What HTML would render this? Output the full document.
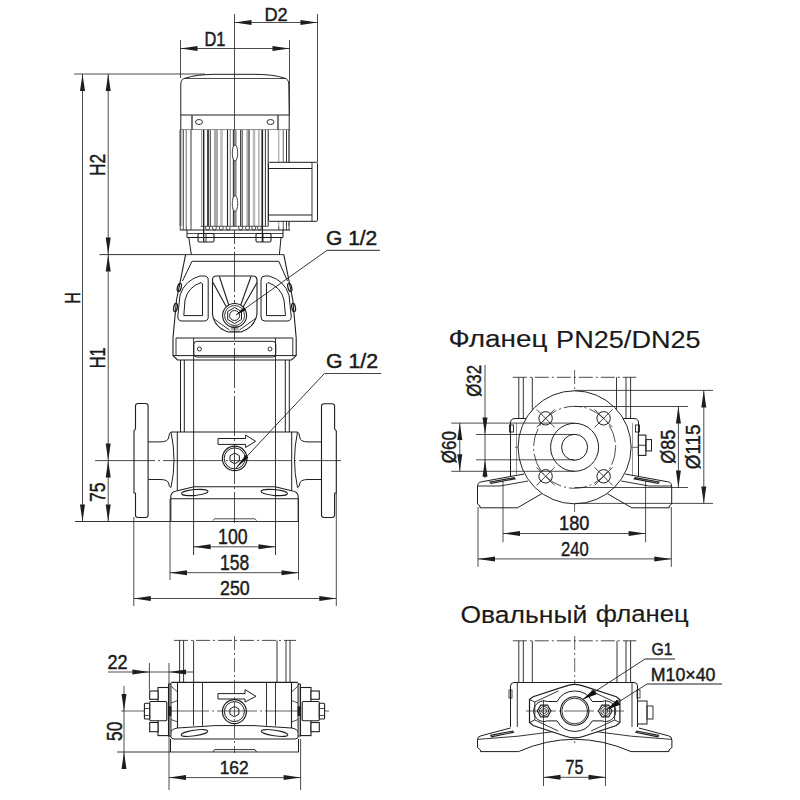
<!DOCTYPE html>
<html><head><meta charset="utf-8"><style>
html,body{margin:0;padding:0;background:#fff;width:800px;height:800px;overflow:hidden}
svg{display:block}
text{font-family:"Liberation Sans",sans-serif}
</style></head><body>
<svg width="800" height="800" viewBox="0 0 800 800">
<rect width="800" height="800" fill="#fff"/>
<line x1="234.5" y1="14" x2="234.5" y2="108" stroke="#1e1e1e" stroke-width="0.8"/>
<line x1="234.5" y1="108" x2="234.5" y2="523" stroke="#1e1e1e" stroke-width="0.8" stroke-dasharray="40 3 2 3"/>
<line x1="317.5" y1="14" x2="317.5" y2="162" stroke="#1e1e1e" stroke-width="0.8"/>
<line x1="234.5" y1="22.5" x2="317.5" y2="22.5" stroke="#1e1e1e" stroke-width="0.8"/>
<polygon points="234.50,22.50 251.50,20.00 251.50,25.00" fill="#1e1e1e"/>
<polygon points="317.50,22.50 300.50,20.00 300.50,25.00" fill="#1e1e1e"/>
<text x="0" y="0" font-size="19.16" text-anchor="middle" fill="#1a1a1a" stroke="#1a1a1a" stroke-width="0.45" transform="translate(276.05 20.80) rotate(0) scale(0.9485 1)">D2</text>
<line x1="180.5" y1="40" x2="180.5" y2="78" stroke="#1e1e1e" stroke-width="0.8"/>
<line x1="289.5" y1="40" x2="289.5" y2="115" stroke="#1e1e1e" stroke-width="0.8"/>
<line x1="180.5" y1="48.5" x2="289.5" y2="48.5" stroke="#1e1e1e" stroke-width="0.8"/>
<polygon points="180.50,48.50 197.50,46.00 197.50,51.00" fill="#1e1e1e"/>
<polygon points="289.50,48.50 272.50,46.00 272.50,51.00" fill="#1e1e1e"/>
<text x="0" y="0" font-size="19.50" text-anchor="middle" fill="#1a1a1a" stroke="#1a1a1a" stroke-width="0.45" transform="translate(214.90 46.00) rotate(0) scale(0.8421 1)">D1</text>
<line x1="74" y1="74" x2="205" y2="74" stroke="#1e1e1e" stroke-width="0.8"/>
<line x1="82.5" y1="74" x2="82.5" y2="521.5" stroke="#1e1e1e" stroke-width="0.8"/>
<polygon points="82.50,74.00 80.00,91.00 85.00,91.00" fill="#1e1e1e"/>
<polygon points="82.50,521.50 80.00,504.50 85.00,504.50" fill="#1e1e1e"/>
<text x="0" y="0" font-size="21.79" text-anchor="middle" fill="#1a1a1a" stroke="#1a1a1a" stroke-width="0.45" transform="translate(79.82 298.00) rotate(-90) scale(0.7410 1)">H</text>
<line x1="108.2" y1="74" x2="108.2" y2="521.5" stroke="#1e1e1e" stroke-width="0.8"/>
<polygon points="108.20,74.00 105.70,91.00 110.70,91.00" fill="#1e1e1e"/>
<polygon points="108.20,254.60 105.70,237.60 110.70,237.60" fill="#1e1e1e"/>
<polygon points="108.20,254.60 105.70,271.60 110.70,271.60" fill="#1e1e1e"/>
<polygon points="108.20,460.60 105.70,443.60 110.70,443.60" fill="#1e1e1e"/>
<polygon points="108.20,460.60 105.70,477.60 110.70,477.60" fill="#1e1e1e"/>
<polygon points="108.20,521.50 105.70,504.50 110.70,504.50" fill="#1e1e1e"/>
<text x="0" y="0" font-size="21.18" text-anchor="middle" fill="#1a1a1a" stroke="#1a1a1a" stroke-width="0.45" transform="translate(105.37 164.95) rotate(-90) scale(0.8140 1)">H2</text>
<text x="0" y="0" font-size="22.86" text-anchor="middle" fill="#1a1a1a" stroke="#1a1a1a" stroke-width="0.45" transform="translate(105.44 357.80) rotate(-90) scale(0.7149 1)">H1</text>
<text x="0" y="0" font-size="22.15" text-anchor="middle" fill="#1a1a1a" stroke="#1a1a1a" stroke-width="0.45" transform="translate(105.38 492.14) rotate(-90) scale(0.7934 1)">75</text>
<line x1="99.5" y1="254.6" x2="284" y2="254.6" stroke="#1e1e1e" stroke-width="0.9"/>
<line x1="95" y1="460.6" x2="341" y2="460.6" stroke="#1e1e1e" stroke-width="0.8" stroke-dasharray="60 3 2 3"/>
<line x1="75" y1="521.5" x2="299" y2="521.5" stroke="#1e1e1e" stroke-width="0.9"/>
<path d="M180.8,115 L180.8,84 Q181,78.5 186,78 Q196,74.5 215,74.3 L255,74.3 Q274,74.5 284,78 Q288.5,78.5 288.8,84 L289.2,115" stroke="#1e1e1e" stroke-width="1" fill="none"/>
<line x1="184" y1="78.5" x2="286" y2="78.5" stroke="#1e1e1e" stroke-width="0.8"/>
<line x1="180.8" y1="115" x2="289.2" y2="115" stroke="#1e1e1e" stroke-width="1"/>
<line x1="180.5" y1="130" x2="289.5" y2="130" stroke="#1e1e1e" stroke-width="1"/>
<line x1="180.8" y1="115" x2="180.8" y2="130" stroke="#1e1e1e" stroke-width="1"/>
<line x1="289.2" y1="115" x2="289.2" y2="130" stroke="#1e1e1e" stroke-width="1"/>
<line x1="192" y1="115" x2="192" y2="130" stroke="#555" stroke-width="1.6"/>
<line x1="278" y1="115" x2="278" y2="130" stroke="#555" stroke-width="1.6"/>
<ellipse cx="199" cy="122" rx="3.5" ry="2.5" stroke="#1e1e1e" stroke-width="0.9" fill="none"/>
<ellipse cx="270.5" cy="122" rx="3.5" ry="2.5" stroke="#1e1e1e" stroke-width="0.9" fill="none"/>
<rect x="180" y="130" width="110" height="100" fill="#fff"/>
<line x1="180.5" y1="130" x2="180.5" y2="226.3" stroke="#aaa" stroke-width="2.3"/>
<line x1="180.25" y1="130" x2="180.25" y2="226.3" stroke="#444" stroke-width="1.1"/>
<line x1="183.25" y1="130" x2="183.25" y2="226.3" stroke="#333" stroke-width="1"/>
<line x1="186.25" y1="130" x2="186.25" y2="226.3" stroke="#888" stroke-width="1.2"/>
<line x1="191" y1="130" x2="191" y2="226.3" stroke="#999" stroke-width="2"/>
<line x1="201.6" y1="130" x2="201.6" y2="226.3" stroke="#999" stroke-width="1"/>
<line x1="203.5" y1="130" x2="203.5" y2="226.3" stroke="#222" stroke-width="1.1"/>
<line x1="208" y1="130" x2="208" y2="226.3" stroke="#333" stroke-width="1.8"/>
<line x1="210.25" y1="130" x2="210.25" y2="226.3" stroke="#333" stroke-width="1"/>
<line x1="215" y1="130" x2="215" y2="226.3" stroke="#aaa" stroke-width="2"/>
<line x1="217" y1="130" x2="217" y2="226.3" stroke="#555" stroke-width="1"/>
<line x1="221.5" y1="130" x2="221.5" y2="226.3" stroke="#c4c4c4" stroke-width="3"/>
<line x1="227.5" y1="130" x2="227.5" y2="226.3" stroke="#222" stroke-width="1.1"/>
<line x1="230.3" y1="130" x2="230.3" y2="226.3" stroke="#999" stroke-width="1.3"/>
<line x1="234.9" y1="130" x2="234.9" y2="226.3" stroke="#8a8a8a" stroke-width="3.4"/>
<line x1="233.4" y1="130" x2="233.4" y2="226.3" stroke="#333" stroke-width="1.1"/>
<line x1="240.6" y1="130" x2="240.6" y2="226.3" stroke="#333" stroke-width="1"/>
<line x1="242.2" y1="130" x2="242.2" y2="226.3" stroke="#333" stroke-width="1"/>
<line x1="247.9" y1="130" x2="247.9" y2="226.3" stroke="#b0b0b0" stroke-width="3.2"/>
<line x1="249.1" y1="130" x2="249.1" y2="226.3" stroke="#444" stroke-width="1"/>
<line x1="254" y1="130" x2="254" y2="226.3" stroke="#b8b8b8" stroke-width="2.4"/>
<line x1="258.9" y1="130" x2="258.9" y2="226.3" stroke="#888" stroke-width="1"/>
<line x1="262.3" y1="130" x2="262.3" y2="226.3" stroke="#222" stroke-width="1.5"/>
<line x1="265.4" y1="130" x2="265.4" y2="226.3" stroke="#333" stroke-width="1"/>
<line x1="268.2" y1="130" x2="268.2" y2="226.3" stroke="#222" stroke-width="1"/>
<line x1="278.8" y1="130" x2="278.8" y2="226.3" stroke="#999" stroke-width="1"/>
<line x1="283.25" y1="130" x2="283.25" y2="226.3" stroke="#666" stroke-width="1"/>
<line x1="286.5" y1="130" x2="286.5" y2="226.3" stroke="#333" stroke-width="1"/>
<line x1="289" y1="130" x2="289" y2="226.3" stroke="#222" stroke-width="1.2"/>
<line x1="180.25" y1="226.3" x2="180.25" y2="230" stroke="#444" stroke-width="1"/>
<line x1="183.25" y1="226.3" x2="183.25" y2="230" stroke="#444" stroke-width="1"/>
<line x1="186.25" y1="226.3" x2="186.25" y2="230" stroke="#444" stroke-width="1"/>
<line x1="191" y1="226.3" x2="191" y2="230" stroke="#444" stroke-width="1"/>
<line x1="278.8" y1="226.3" x2="278.8" y2="230" stroke="#444" stroke-width="1"/>
<line x1="283.25" y1="226.3" x2="283.25" y2="230" stroke="#444" stroke-width="1"/>
<line x1="286.5" y1="226.3" x2="286.5" y2="230" stroke="#444" stroke-width="1"/>
<line x1="289" y1="226.3" x2="289" y2="230" stroke="#444" stroke-width="1"/>
<line x1="200.6" y1="226.3" x2="268.2" y2="226.3" stroke="#444" stroke-width="0.9"/>
<path d="M205.7,226.3 L205.7,228 Q205.7,230 207.6,230 Q209.5,230 209.5,228 L209.5,226.3" stroke="#444" stroke-width="0.9" fill="none"/>
<path d="M212.5,226.3 L212.5,228 Q212.5,230 214.4,230 Q216.3,230 216.3,228 L216.3,226.3" stroke="#444" stroke-width="0.9" fill="none"/>
<path d="M219.35,226.3 L219.35,228 Q219.35,230 221.25,230 Q223.15,230 223.15,228 L223.15,226.3" stroke="#444" stroke-width="0.9" fill="none"/>
<path d="M226.2,226.3 L226.2,228 Q226.2,230 228.1,230 Q230.0,230 230.0,228 L230.0,226.3" stroke="#444" stroke-width="0.9" fill="none"/>
<path d="M238.7,226.3 L238.7,228 Q238.7,230 240.6,230 Q242.5,230 242.5,228 L242.5,226.3" stroke="#444" stroke-width="0.9" fill="none"/>
<path d="M245.6,226.3 L245.6,228 Q245.6,230 247.5,230 Q249.4,230 249.4,228 L249.4,226.3" stroke="#444" stroke-width="0.9" fill="none"/>
<path d="M251.85,226.3 L251.85,228 Q251.85,230 253.75,230 Q255.65,230 255.65,228 L255.65,226.3" stroke="#444" stroke-width="0.9" fill="none"/>
<path d="M257.40000000000003,226.3 L257.40000000000003,228 Q257.40000000000003,230 259.3,230 Q261.20000000000005,230 261.20000000000005,228 L261.20000000000005,226.3" stroke="#444" stroke-width="0.9" fill="none"/>
<line x1="203.7" y1="130" x2="203.7" y2="242" stroke="#222" stroke-width="1.3"/>
<line x1="262.4" y1="130" x2="262.4" y2="242" stroke="#222" stroke-width="1.3"/>
<ellipse cx="235" cy="153" rx="2.7" ry="8" fill="#fff" stroke="#333" stroke-width="0.9"/>
<ellipse cx="235" cy="203.5" rx="2.7" ry="8" fill="#fff" stroke="#333" stroke-width="0.9"/>
<rect x="268.5" y="162.3" width="49" height="59" fill="#fff"/>
<rect x="268.5" y="162.3" width="49" height="59" rx="1" stroke="#1e1e1e" stroke-width="1" fill="none"/>
<line x1="268.5" y1="168.5" x2="312" y2="168.5" stroke="#1e1e1e" stroke-width="1"/>
<line x1="268.5" y1="215" x2="312" y2="215" stroke="#1e1e1e" stroke-width="1"/>
<path d="M312,162.3 L312,221.3" stroke="#1e1e1e" stroke-width="0.9" fill="none"/>
<line x1="180" y1="230" x2="290" y2="230" stroke="#1e1e1e" stroke-width="1"/>
<path d="M187,230 L187,237.5 L283,237.5 L283,230" stroke="#1e1e1e" stroke-width="1" fill="none"/>
<line x1="187" y1="233.5" x2="283" y2="233.5" stroke="#1e1e1e" stroke-width="0.8"/>
<rect x="198" y="233.5" width="16" height="8.5" rx="1.5" stroke="#1e1e1e" stroke-width="1.1" fill="none"/>
<line x1="206" y1="233.5" x2="206" y2="242" stroke="#1e1e1e" stroke-width="0.9"/>
<rect x="256" y="233.5" width="15" height="8.5" rx="1.5" stroke="#1e1e1e" stroke-width="1.1" fill="none"/>
<line x1="263" y1="233.5" x2="263" y2="242" stroke="#1e1e1e" stroke-width="0.9"/>
<line x1="188.8" y1="237.5" x2="191.3" y2="254.6" stroke="#1e1e1e" stroke-width="1"/>
<line x1="281" y1="237.5" x2="279.4" y2="254.6" stroke="#1e1e1e" stroke-width="1"/>
<path d="M185.6,254.6 L176.5,300 L173,338 L173,355.6 L177.5,360 L291.5,360 L296.2,355.6 L296.2,338 L292.8,300 L283.8,254.6" stroke="#1e1e1e" stroke-width="1.1" fill="none"/>
<ellipse cx="179.3" cy="287.5" rx="1.8" ry="4.2" stroke="#1e1e1e" stroke-width="1.3" fill="none" transform="rotate(15 179.3 287.5)"/>
<ellipse cx="175.5" cy="307.5" rx="1.8" ry="4.2" stroke="#1e1e1e" stroke-width="1.3" fill="none" transform="rotate(10 175.5 307.5)"/>
<ellipse cx="289.8" cy="287.5" rx="1.8" ry="4.2" stroke="#1e1e1e" stroke-width="1.3" fill="none" transform="rotate(-15 289.8 287.5)"/>
<ellipse cx="293.6" cy="307.5" rx="1.8" ry="4.2" stroke="#1e1e1e" stroke-width="1.3" fill="none" transform="rotate(-10 293.6 307.5)"/>
<path d="M182.5,281 L192,261.3 L278.8,261.3 L287.5,281" stroke="#1e1e1e" stroke-width="1" fill="none"/>
<path d="M200,276 Q185,280 180,295 L177.8,316 Q177.5,321 182,321 L204,321 Q208.2,321 208.2,317 L208.2,280 Q208.2,276 204,276 Z" stroke="#1e1e1e" stroke-width="1" fill="none"/>
<path d="M201,282.5 Q188,287 185,300 L183.8,315.6 L202.5,315.6 L202.5,284 Z" stroke="#1e1e1e" stroke-width="1" fill="none"/>
<path d="M269,276 Q284,280 289,295 L291.2,316 Q291.5,321 287,321 L265,321 Q261,321 261,317 L261,280 Q261,276 265,276 Z" stroke="#1e1e1e" stroke-width="1" fill="none"/>
<path d="M268,282.5 Q281,287 284,300 L285.5,315.6 L266.5,315.6 L266.5,284 Z" stroke="#1e1e1e" stroke-width="1" fill="none"/>
<path d="M216.5,276 L252.8,276 Q257,276 257,280 L257,314 Q255,327 241,332 L228,332 Q214,327 212.5,314 L212.5,280 Q212.5,276 216.5,276 Z" stroke="#1e1e1e" stroke-width="1.1" fill="none"/>
<line x1="213" y1="282.5" x2="227.5" y2="309" stroke="#1e1e1e" stroke-width="1.1"/>
<line x1="219.4" y1="276.5" x2="229.4" y2="307" stroke="#1e1e1e" stroke-width="1.1"/>
<line x1="251" y1="276.5" x2="240" y2="307" stroke="#1e1e1e" stroke-width="1.1"/>
<line x1="257" y1="282.5" x2="242" y2="309" stroke="#1e1e1e" stroke-width="1.1"/>
<path d="M212.8,318 Q221,324 229.5,330 M256.2,318 Q248,324 239.5,330" stroke="#1e1e1e" stroke-width="0.9" fill="none"/>
<circle cx="234.6" cy="315.5" r="12" fill="#fff" stroke="#1e1e1e" stroke-width="1.1"/>
<circle cx="234.6" cy="315.5" r="10" stroke="#1e1e1e" stroke-width="0.9" fill="none"/>
<polygon points="234.6,307.5 241.5,311.5 241.5,319.5 234.6,323.5 227.7,319.5 227.7,311.5" fill="none" stroke="#1e1e1e" stroke-width="1"/>
<circle cx="234.6" cy="315.5" r="5" stroke="#1e1e1e" stroke-width="1" fill="none"/>
<path d="M231,326.8 L238.5,326.8 M231,329 L238.5,329 M230,331.3 L239.5,331.3" stroke="#1e1e1e" stroke-width="0.8" fill="none"/>
<line x1="236" y1="315" x2="327" y2="250.4" stroke="#1e1e1e" stroke-width="0.9"/>
<polygon points="236,315 246.0,310.1 244.0,307.1" fill="#111"/>
<line x1="327" y1="250.4" x2="380" y2="250.4" stroke="#555" stroke-width="1.1"/>
<text x="0" y="0" font-size="19.65" text-anchor="middle" fill="#1a1a1a" stroke="#1a1a1a" stroke-width="0.45" transform="translate(351.64 245.38) rotate(0) scale(1.0666 1)">G 1/2</text>
<line x1="176" y1="338" x2="292.8" y2="338" stroke="#1e1e1e" stroke-width="1"/>
<line x1="173" y1="355.6" x2="296.2" y2="355.6" stroke="#1e1e1e" stroke-width="1"/>
<line x1="176" y1="338" x2="176" y2="355.6" stroke="#1e1e1e" stroke-width="0.9"/>
<line x1="292.8" y1="338" x2="292.8" y2="355.6" stroke="#1e1e1e" stroke-width="0.9"/>
<rect x="193.8" y="341.3" width="82" height="15.7" rx="3" stroke="#1e1e1e" stroke-width="1" fill="none"/>
<circle cx="199.4" cy="349" r="2" stroke="#1e1e1e" stroke-width="0.9" fill="none"/>
<circle cx="270" cy="349" r="2" stroke="#1e1e1e" stroke-width="0.9" fill="none"/>
<line x1="180.5" y1="360" x2="180.5" y2="432" stroke="#1e1e1e" stroke-width="1"/>
<line x1="184.3" y1="360" x2="184.3" y2="432" stroke="#1e1e1e" stroke-width="1"/>
<line x1="285.3" y1="360" x2="285.3" y2="432" stroke="#1e1e1e" stroke-width="1"/>
<line x1="289.3" y1="360" x2="289.3" y2="432" stroke="#1e1e1e" stroke-width="1"/>
<line x1="193.6" y1="338" x2="193.6" y2="555" stroke="#1e1e1e" stroke-width="0.9"/>
<line x1="275.5" y1="338" x2="275.5" y2="555" stroke="#1e1e1e" stroke-width="0.9"/>
<path d="M171,432 L297.5,432" stroke="#1e1e1e" stroke-width="1.1" fill="none"/>
<path d="M171,432 Q169,433 168.8,437 Q168.5,441.9 160,441.9 L148.1,441.9" stroke="#1e1e1e" stroke-width="1" fill="none"/>
<path d="M148.1,479.5 L160,479.5 Q168.5,479.5 168.8,484 Q169,487 171,487.5" stroke="#1e1e1e" stroke-width="1" fill="none"/>
<path d="M171,432 Q177,460 171,487.5" stroke="#1e1e1e" stroke-width="1" fill="none"/>
<path d="M297.5,432 Q299.5,433 299.7,437 Q300,441.9 308,441.9 L321.5,441.9" stroke="#1e1e1e" stroke-width="1" fill="none"/>
<path d="M321.5,479.5 L308,479.5 Q300,479.5 299.7,484 Q299.5,487 297.5,487.5" stroke="#1e1e1e" stroke-width="1" fill="none"/>
<path d="M297.5,432 Q291.5,460 297.5,487.5" stroke="#1e1e1e" stroke-width="1" fill="none"/>
<line x1="177.3" y1="432" x2="177.3" y2="490.8" stroke="#1e1e1e" stroke-width="1"/>
<line x1="291.7" y1="432" x2="291.7" y2="490.8" stroke="#1e1e1e" stroke-width="1"/>
<path d="M170.8,521 L170.8,496 Q171.5,491.5 177.3,490.8 L193.9,486.8 L275.1,486.8 L291.7,490.8 Q297.5,491.5 298.2,496 L298.2,521" stroke="#1e1e1e" stroke-width="1.1" fill="none"/>
<line x1="170.8" y1="498.7" x2="298.2" y2="498.7" stroke="#1e1e1e" stroke-width="1.1"/>
<ellipse cx="194.8" cy="492.5" rx="13.3" ry="2.9" stroke="#1e1e1e" stroke-width="1" fill="none" transform="rotate(-5 194.8 492.5)"/>
<ellipse cx="274.2" cy="492.5" rx="13.3" ry="2.9" stroke="#1e1e1e" stroke-width="1" fill="none" transform="rotate(5 274.2 492.5)"/>
<path d="M213,520.6 L214.5,518.8 L255,518.8 L256.5,520.6" stroke="#1e1e1e" stroke-width="0.8" fill="none"/>
<path d="M135.5,429 L135.5,406 Q135.5,403.5 138,403.5 L145.6,403.5 Q148.1,403.5 148.1,406 L148.1,515 Q148.1,517.5 145.6,517.5 L138,517.5 Q135.5,517.5 135.5,515 L135.5,493" stroke="#1e1e1e" stroke-width="1.1" fill="none"/>
<path d="M135.5,429 L134,431 L134,493 L135.5,493" stroke="#1e1e1e" stroke-width="1.1" fill="none"/>
<path d="M334.6,429 L334.6,406 Q334.6,403.7 332,403.7 L324,403.7 Q321.5,403.7 321.5,406 L321.5,515 Q321.5,517.5 324,517.5 L332,517.5 Q334.6,517.5 334.6,515 L334.6,493" stroke="#1e1e1e" stroke-width="1.1" fill="none"/>
<path d="M334.6,429 L336.3,431 L336.3,493 L334.6,493" stroke="#1e1e1e" stroke-width="1.1" fill="none"/>
<path d="M218,438.5 L245.6,438.5 L245.6,435 L255.6,441.3 L245.6,447.5 L245.6,444.4 L218,444.4 Z" stroke="#1e1e1e" stroke-width="1" fill="none"/>
<circle cx="234.7" cy="458.4" r="12.3" stroke="#1e1e1e" stroke-width="1.2" fill="none"/>
<circle cx="234.7" cy="458.4" r="10.5" stroke="#1e1e1e" stroke-width="1" fill="none"/>
<polygon points="234.7,453 239.4,455.7 239.4,461.1 234.7,463.8 230,461.1 230,455.7" fill="none" stroke="#1e1e1e" stroke-width="1"/>
<line x1="236" y1="468" x2="324.4" y2="373.5" stroke="#1e1e1e" stroke-width="0.9"/>
<polygon points="236,468 248.4,457.6 245.6,455" fill="#111"/>
<line x1="324.4" y1="373.5" x2="381.2" y2="373.5" stroke="#444" stroke-width="1.1"/>
<text x="0" y="0" font-size="19.45" text-anchor="middle" fill="#1a1a1a" stroke="#1a1a1a" stroke-width="0.45" transform="translate(351.97 367.75) rotate(0) scale(1.0959 1)">G 1/2</text>
<line x1="170" y1="499" x2="170" y2="580" stroke="#1e1e1e" stroke-width="0.8"/>
<line x1="298.5" y1="499" x2="298.5" y2="580" stroke="#1e1e1e" stroke-width="0.8"/>
<line x1="133.8" y1="517" x2="133.8" y2="606" stroke="#1e1e1e" stroke-width="0.8"/>
<line x1="336.3" y1="493" x2="336.3" y2="606" stroke="#1e1e1e" stroke-width="0.8"/>
<line x1="193.6" y1="546.8" x2="275.5" y2="546.8" stroke="#1e1e1e" stroke-width="0.8"/>
<polygon points="193.60,546.80 210.60,544.30 210.60,549.30" fill="#1e1e1e"/>
<polygon points="275.50,546.80 258.50,544.30 258.50,549.30" fill="#1e1e1e"/>
<line x1="170" y1="572.7" x2="298.5" y2="572.7" stroke="#1e1e1e" stroke-width="0.8"/>
<polygon points="170.00,572.70 187.00,570.20 187.00,575.20" fill="#1e1e1e"/>
<polygon points="298.50,572.70 281.50,570.20 281.50,575.20" fill="#1e1e1e"/>
<line x1="133.8" y1="598.5" x2="336.3" y2="598.5" stroke="#1e1e1e" stroke-width="0.8"/>
<polygon points="133.80,598.50 150.80,596.00 150.80,601.00" fill="#1e1e1e"/>
<polygon points="336.30,598.50 319.30,596.00 319.30,601.00" fill="#1e1e1e"/>
<text x="0" y="0" font-size="22.20" text-anchor="middle" fill="#1a1a1a" stroke="#1a1a1a" stroke-width="0.45" transform="translate(232.84 544.32) rotate(0) scale(0.7976 1)">100</text>
<text x="0" y="0" font-size="21.81" text-anchor="middle" fill="#1a1a1a" stroke="#1a1a1a" stroke-width="0.45" transform="translate(234.60 569.61) rotate(0) scale(0.8025 1)">158</text>
<text x="0" y="0" font-size="19.45" text-anchor="middle" fill="#1a1a1a" stroke="#1a1a1a" stroke-width="0.45" transform="translate(234.88 594.72) rotate(0) scale(0.9152 1)">250</text>
<text x="0" y="0" font-size="24.53" text-anchor="middle" fill="#1a1a1a" stroke="#1a1a1a" stroke-width="0.15" transform="translate(497.90 346.76) rotate(0) scale(1.1382 1)">Фланец</text>
<text x="0" y="0" font-size="24.74" text-anchor="middle" fill="#1a1a1a" stroke="#1a1a1a" stroke-width="0.15" transform="translate(628.38 348.38) rotate(0) scale(1.0961 1)">PN25/DN25</text>
<line x1="512.8" y1="377.3" x2="636.3" y2="377.3" stroke="#1e1e1e" stroke-width="0.8" stroke-dasharray="14 3 2 3"/>
<line x1="518.8" y1="377.3" x2="518.8" y2="419" stroke="#1e1e1e" stroke-width="0.9"/>
<line x1="523.3" y1="377.3" x2="523.3" y2="419" stroke="#1e1e1e" stroke-width="0.9"/>
<line x1="532.3" y1="377.3" x2="532.3" y2="419" stroke="#1e1e1e" stroke-width="0.9"/>
<line x1="616.5" y1="377.3" x2="616.5" y2="419" stroke="#1e1e1e" stroke-width="0.9"/>
<line x1="626" y1="377.3" x2="626" y2="419" stroke="#1e1e1e" stroke-width="0.9"/>
<line x1="630.6" y1="377.3" x2="630.6" y2="419" stroke="#1e1e1e" stroke-width="0.9"/>
<line x1="574.6" y1="370" x2="574.6" y2="512" stroke="#1e1e1e" stroke-width="0.7" stroke-dasharray="14 3 2 3"/>
<line x1="515" y1="447.3" x2="641" y2="447.3" stroke="#1e1e1e" stroke-width="0.7" stroke-dasharray="14 3 2 3"/>
<path d="M510.5,476 L510.5,423 Q510.5,418.5 515,418.5 L634,418.5 Q638.5,418.5 638.5,423 L638.5,476" stroke="#1e1e1e" stroke-width="1" fill="none"/>
<line x1="516.5" y1="423" x2="516.5" y2="476" stroke="#777" stroke-width="0.8"/>
<line x1="632.5" y1="423" x2="632.5" y2="476" stroke="#777" stroke-width="0.8"/>
<rect x="509.5" y="425" width="4" height="7" rx="0" stroke="#1e1e1e" stroke-width="0.9" fill="none"/>
<rect x="635.5" y="425" width="4" height="7" rx="0" stroke="#1e1e1e" stroke-width="0.9" fill="none"/>
<rect x="638.3" y="435.1" width="7.6" height="20.3" rx="0" stroke="#1e1e1e" stroke-width="1.1" fill="none"/>
<rect x="645.9" y="439.6" width="5.6" height="11.3" rx="0" stroke="#1e1e1e" stroke-width="1" fill="none"/>
<line x1="638.3" y1="445.25" x2="645.9" y2="445.25" stroke="#1e1e1e" stroke-width="0.9"/>
<path d="M477.5,504 L477.5,487 Q477.5,482 481.5,481.8 L524,474" stroke="#1e1e1e" stroke-width="1" fill="none"/>
<path d="M477.5,486 L500,486 L528,481" stroke="#1e1e1e" stroke-width="0.9" fill="none"/>
<path d="M477.5,504 L480,506 L480,507.8 L517.5,507.8 L542,493.5" stroke="#1e1e1e" stroke-width="1" fill="none"/>
<path d="M490,482 L514,477.6 L515,478.8 L491,483.3 Z" stroke="#1e1e1e" stroke-width="1.1" fill="none"/>
<path d="M671.7,504 L671.7,487 Q671.7,482 667.7,481.8 L625.2,474" stroke="#1e1e1e" stroke-width="1" fill="none"/>
<path d="M671.7,486 L649.2,486 L621.2,481" stroke="#1e1e1e" stroke-width="0.9" fill="none"/>
<path d="M671.7,504 L669.2,506 L669.2,507.8 L631.7,507.8 L607.2,493.5" stroke="#1e1e1e" stroke-width="1" fill="none"/>
<path d="M659.2,482 L635.2,477.6 L634.2,478.8 L658.2,483.3 Z" stroke="#1e1e1e" stroke-width="1.1" fill="none"/>
<circle cx="574.6" cy="447.3" r="56.5" fill="#fff" stroke="#262626" stroke-width="1"/>
<circle cx="574.6" cy="447.3" r="41" stroke="#1e1e1e" stroke-width="0.8" fill="none" stroke-dasharray="18 3 2 3"/>
<circle cx="574.6" cy="447.3" r="24" stroke="#1e1e1e" stroke-width="1" fill="none"/>
<circle cx="574.6" cy="447.3" r="13" stroke="#1e1e1e" stroke-width="1" fill="none"/>
<circle cx="545.6" cy="418.3" r="6.7" stroke="#1e1e1e" stroke-width="1" fill="none"/>
<line x1="536.6" y1="409.3" x2="554.6" y2="427.3" stroke="#1e1e1e" stroke-width="0.8"/>
<line x1="536.6" y1="427.3" x2="554.6" y2="409.3" stroke="#1e1e1e" stroke-width="0.8"/>
<circle cx="545.6" cy="476.3" r="6.7" stroke="#1e1e1e" stroke-width="1" fill="none"/>
<line x1="536.6" y1="467.3" x2="554.6" y2="485.3" stroke="#1e1e1e" stroke-width="0.8"/>
<line x1="536.6" y1="485.3" x2="554.6" y2="467.3" stroke="#1e1e1e" stroke-width="0.8"/>
<circle cx="603.6" cy="418.3" r="6.7" stroke="#1e1e1e" stroke-width="1" fill="none"/>
<line x1="594.6" y1="409.3" x2="612.6" y2="427.3" stroke="#1e1e1e" stroke-width="0.8"/>
<line x1="594.6" y1="427.3" x2="612.6" y2="409.3" stroke="#1e1e1e" stroke-width="0.8"/>
<circle cx="603.6" cy="476.3" r="6.7" stroke="#1e1e1e" stroke-width="1" fill="none"/>
<line x1="594.6" y1="467.3" x2="612.6" y2="485.3" stroke="#1e1e1e" stroke-width="0.8"/>
<line x1="594.6" y1="485.3" x2="612.6" y2="467.3" stroke="#1e1e1e" stroke-width="0.8"/>
<line x1="451.3" y1="423.1" x2="574.6" y2="423.1" stroke="#1e1e1e" stroke-width="0.8"/>
<line x1="451.3" y1="471.3" x2="574.6" y2="471.3" stroke="#1e1e1e" stroke-width="0.8"/>
<line x1="476" y1="434.5" x2="574.6" y2="434.5" stroke="#1e1e1e" stroke-width="0.8"/>
<line x1="476" y1="459.8" x2="574.6" y2="459.8" stroke="#1e1e1e" stroke-width="0.8"/>
<line x1="459.8" y1="423.1" x2="459.8" y2="471.3" stroke="#1e1e1e" stroke-width="0.8"/>
<polygon points="459.80,423.10 457.30,440.10 462.30,440.10" fill="#1e1e1e"/>
<polygon points="459.80,471.30 457.30,454.30 462.30,454.30" fill="#1e1e1e"/>
<line x1="485" y1="365" x2="485" y2="478" stroke="#1e1e1e" stroke-width="0.8"/>
<polygon points="485.00,434.50 482.50,417.50 487.50,417.50" fill="#1e1e1e"/>
<polygon points="485.00,459.80 482.50,476.80 487.50,476.80" fill="#1e1e1e"/>
<text x="0" y="0" font-size="19.73" text-anchor="middle" fill="#1a1a1a" stroke="#1a1a1a" stroke-width="0.45" transform="translate(455.94 447.18) rotate(-90) scale(0.8600 1)">Ø60</text>
<text x="0" y="0" font-size="20.58" text-anchor="middle" fill="#1a1a1a" stroke="#1a1a1a" stroke-width="0.45" transform="translate(481.04 380.85) rotate(-90) scale(0.8206 1)">Ø32</text>
<line x1="574.6" y1="390.4" x2="713" y2="390.4" stroke="#1e1e1e" stroke-width="0.8"/>
<line x1="574.6" y1="503.4" x2="713" y2="503.4" stroke="#1e1e1e" stroke-width="0.8"/>
<line x1="574.6" y1="406.5" x2="688" y2="406.5" stroke="#1e1e1e" stroke-width="0.8"/>
<line x1="574.6" y1="487.5" x2="688" y2="487.5" stroke="#1e1e1e" stroke-width="0.8"/>
<line x1="678.4" y1="406.5" x2="678.4" y2="487.5" stroke="#1e1e1e" stroke-width="0.8"/>
<polygon points="678.40,406.50 675.90,423.50 680.90,423.50" fill="#1e1e1e"/>
<polygon points="678.40,487.50 675.90,470.50 680.90,470.50" fill="#1e1e1e"/>
<line x1="703.8" y1="390.4" x2="703.8" y2="503.4" stroke="#1e1e1e" stroke-width="0.8"/>
<polygon points="703.80,390.40 701.30,407.40 706.30,407.40" fill="#1e1e1e"/>
<polygon points="703.80,503.40 701.30,486.40 706.30,486.40" fill="#1e1e1e"/>
<text x="0" y="0" font-size="20.00" text-anchor="middle" fill="#1a1a1a" stroke="#1a1a1a" stroke-width="0.45" transform="translate(675.46 446.82) rotate(-90) scale(0.8982 1)">Ø85</text>
<text x="0" y="0" font-size="19.73" text-anchor="middle" fill="#1a1a1a" stroke="#1a1a1a" stroke-width="0.45" transform="translate(700.24 446.86) rotate(-90) scale(0.9529 1)">Ø115</text>
<line x1="503" y1="481" x2="503" y2="542.3" stroke="#1e1e1e" stroke-width="0.8"/>
<line x1="645.6" y1="481" x2="645.6" y2="542.3" stroke="#1e1e1e" stroke-width="0.8"/>
<line x1="503" y1="533.5" x2="645.6" y2="533.5" stroke="#1e1e1e" stroke-width="0.8"/>
<polygon points="503.00,533.50 520.00,531.00 520.00,536.00" fill="#1e1e1e"/>
<polygon points="645.60,533.50 628.60,531.00 628.60,536.00" fill="#1e1e1e"/>
<line x1="478" y1="507" x2="478" y2="566.8" stroke="#1e1e1e" stroke-width="0.8"/>
<line x1="671.3" y1="507" x2="671.3" y2="566.8" stroke="#1e1e1e" stroke-width="0.8"/>
<line x1="478" y1="558.9" x2="671.3" y2="558.9" stroke="#1e1e1e" stroke-width="0.8"/>
<polygon points="478.00,558.90 495.00,556.40 495.00,561.40" fill="#1e1e1e"/>
<polygon points="671.30,558.90 654.30,556.40 654.30,561.40" fill="#1e1e1e"/>
<text x="0" y="0" font-size="21.00" text-anchor="middle" fill="#1a1a1a" stroke="#1a1a1a" stroke-width="0.45" transform="translate(574.21 530.00) rotate(0) scale(0.8654 1)">180</text>
<text x="0" y="0" font-size="21.00" text-anchor="middle" fill="#1a1a1a" stroke="#1a1a1a" stroke-width="0.45" transform="translate(574.78 555.95) rotate(0) scale(0.7897 1)">240</text>
<line x1="174" y1="640.4" x2="296" y2="640.4" stroke="#1e1e1e" stroke-width="0.8" stroke-dasharray="14 3 2 3"/>
<line x1="179.6" y1="640.4" x2="179.6" y2="682.4" stroke="#1e1e1e" stroke-width="0.9"/>
<line x1="183.6" y1="640.4" x2="183.6" y2="682.4" stroke="#1e1e1e" stroke-width="0.9"/>
<line x1="193.6" y1="640.4" x2="193.6" y2="682.4" stroke="#1e1e1e" stroke-width="0.9"/>
<line x1="277" y1="640.4" x2="277" y2="682.4" stroke="#1e1e1e" stroke-width="0.9"/>
<line x1="286" y1="640.4" x2="286" y2="682.4" stroke="#1e1e1e" stroke-width="0.9"/>
<line x1="290" y1="640.4" x2="290" y2="682.4" stroke="#1e1e1e" stroke-width="0.9"/>
<line x1="234.5" y1="636" x2="234.5" y2="753" stroke="#1e1e1e" stroke-width="0.7" stroke-dasharray="14 3 2 3"/>
<path d="M169,686 L171.5,682.4" stroke="#1e1e1e" stroke-width="1" fill="none"/>
<line x1="177.5" y1="682.4" x2="177.5" y2="728" stroke="#1e1e1e" stroke-width="1.1"/>
<path d="M171,686 L177.5,692 M171,703 L177.5,700.5 M171,719.5 L177.5,722" stroke="#1e1e1e" stroke-width="0.8" fill="none"/>
<line x1="193.5" y1="682.4" x2="193.5" y2="725.8" stroke="#1e1e1e" stroke-width="0.9"/>
<line x1="202.5" y1="682.4" x2="202.5" y2="725.8" stroke="#1e1e1e" stroke-width="0.9"/>
<path d="M177.5,728 L215,725.6" stroke="#1e1e1e" stroke-width="1" fill="none"/>
<path d="M177.5,728 Q171,729 170.5,733 L170.5,736 Q171,739 174,739" stroke="#1e1e1e" stroke-width="1" fill="none"/>
<path d="M300.0,686 L297.5,682.4" stroke="#1e1e1e" stroke-width="1" fill="none"/>
<line x1="291.5" y1="682.4" x2="291.5" y2="728" stroke="#1e1e1e" stroke-width="1.1"/>
<path d="M298.0,686 L291.5,692 M298.0,703 L291.5,700.5 M298.0,719.5 L291.5,722" stroke="#1e1e1e" stroke-width="0.8" fill="none"/>
<line x1="275.5" y1="682.4" x2="275.5" y2="725.8" stroke="#1e1e1e" stroke-width="0.9"/>
<line x1="266.5" y1="682.4" x2="266.5" y2="725.8" stroke="#1e1e1e" stroke-width="0.9"/>
<path d="M291.5,728 L254.0,725.6" stroke="#1e1e1e" stroke-width="1" fill="none"/>
<path d="M291.5,728 Q298.0,729 298.5,733 L298.5,736 Q298.0,739 295.0,739" stroke="#1e1e1e" stroke-width="1" fill="none"/>
<line x1="171.5" y1="682.4" x2="297.5" y2="682.4" stroke="#1e1e1e" stroke-width="1.1"/>
<path d="M215,725.6 L254,725.6" stroke="#1e1e1e" stroke-width="1" fill="none"/>
<line x1="121" y1="711" x2="329" y2="711" stroke="#1e1e1e" stroke-width="0.7" stroke-dasharray="40 3 2 3"/>
<path d="M218,693.6 L245,693.6 L245,689.6 L256,696.3 L245,702 L245,699 L218,699 Z" stroke="#1e1e1e" stroke-width="1" fill="none"/>
<circle cx="234.4" cy="711.6" r="12" stroke="#1e1e1e" stroke-width="1.2" fill="none"/>
<circle cx="234.4" cy="711.6" r="10" stroke="#1e1e1e" stroke-width="1" fill="none"/>
<polygon points="234.4,706.4 238.9,709 238.9,714.2 234.4,716.8 229.9,714.2 229.9,709" fill="none" stroke="#1e1e1e" stroke-width="1"/>
<ellipse cx="194.5" cy="733" rx="13.5" ry="2.8" stroke="#1e1e1e" stroke-width="1" fill="none" transform="rotate(-8.5 194.5 733)"/>
<ellipse cx="274.5" cy="733" rx="13.5" ry="2.8" stroke="#1e1e1e" stroke-width="1" fill="none" transform="rotate(8.5 274.5 733)"/>
<line x1="174" y1="739" x2="295" y2="739" stroke="#1e1e1e" stroke-width="1.1"/>
<path d="M170.5,739 L170.5,752 M298.5,739 L298.5,752" stroke="#1e1e1e" stroke-width="1" fill="none"/>
<line x1="117" y1="752" x2="299" y2="752" stroke="#1e1e1e" stroke-width="0.9"/>
<path d="M213,752 L214.5,749.6 L255,749.6 L256.5,752" stroke="#1e1e1e" stroke-width="0.9" fill="none"/>
<rect x="298.00" y="684" width="2.50" height="52.00" rx="0" fill="#bdbdbd" stroke="#1e1e1e" stroke-width="0.9"/>
<rect x="298.00" y="706.8" width="2.50" height="8.70" rx="0" fill="#222" stroke="#1e1e1e" stroke-width="0.8"/>
<rect x="300.50" y="687.5" width="10.50" height="48.10" rx="0" fill="#fff" stroke="#1e1e1e" stroke-width="1.1"/>
<rect x="311.00" y="691" width="8.30" height="8.30" rx="0" fill="#fff" stroke="#1e1e1e" stroke-width="1.1"/>
<rect x="311.00" y="722.5" width="8.30" height="9.20" rx="0" fill="#fff" stroke="#1e1e1e" stroke-width="1.1"/>
<rect x="302.20" y="701.5" width="17.10" height="19.30" rx="1.2" fill="#fff" stroke="#1e1e1e" stroke-width="1.1"/>
<rect x="319.30" y="703.3" width="5.30" height="15.70" rx="1" fill="#fff" stroke="#1e1e1e" stroke-width="1.1"/>
<line x1="324.6" y1="708.5" x2="319.3" y2="708.5" stroke="#1e1e1e" stroke-width="0.8"/>
<line x1="324.6" y1="715.5" x2="319.3" y2="715.5" stroke="#1e1e1e" stroke-width="0.8"/>
<rect x="168.50" y="684" width="2.50" height="52.00" rx="0" fill="#bdbdbd" stroke="#1e1e1e" stroke-width="0.9"/>
<rect x="168.50" y="706.8" width="2.50" height="8.70" rx="0" fill="#222" stroke="#1e1e1e" stroke-width="0.8"/>
<rect x="158.00" y="687.5" width="10.50" height="48.10" rx="0" fill="#fff" stroke="#1e1e1e" stroke-width="1.1"/>
<rect x="149.70" y="691" width="8.30" height="8.30" rx="0" fill="#fff" stroke="#1e1e1e" stroke-width="1.1"/>
<rect x="149.70" y="722.5" width="8.30" height="9.20" rx="0" fill="#fff" stroke="#1e1e1e" stroke-width="1.1"/>
<rect x="149.70" y="701.5" width="17.10" height="19.30" rx="1.2" fill="#fff" stroke="#1e1e1e" stroke-width="1.1"/>
<rect x="144.40" y="703.3" width="5.30" height="15.70" rx="1" fill="#fff" stroke="#1e1e1e" stroke-width="1.1"/>
<line x1="144.4" y1="708.5" x2="149.7" y2="708.5" stroke="#1e1e1e" stroke-width="0.8"/>
<line x1="144.4" y1="715.5" x2="149.7" y2="715.5" stroke="#1e1e1e" stroke-width="0.8"/>
<line x1="108" y1="672" x2="194" y2="672" stroke="#1e1e1e" stroke-width="0.8"/>
<polygon points="149.40,672.00 132.40,669.50 132.40,674.50" fill="#1e1e1e"/>
<polygon points="169.00,672.00 186.00,669.50 186.00,674.50" fill="#1e1e1e"/>
<line x1="149.4" y1="663" x2="149.4" y2="690" stroke="#1e1e1e" stroke-width="0.8"/>
<line x1="169" y1="663" x2="169" y2="790" stroke="#1e1e1e" stroke-width="0.8"/>
<line x1="300.6" y1="739" x2="300.6" y2="790" stroke="#1e1e1e" stroke-width="0.8"/>
<text x="0" y="0" font-size="19.50" text-anchor="middle" fill="#1a1a1a" stroke="#1a1a1a" stroke-width="0.45" transform="translate(117.50 669.00) rotate(0) scale(0.9238 1)">22</text>
<line x1="124" y1="686" x2="124" y2="769" stroke="#1e1e1e" stroke-width="0.8"/>
<polygon points="124.00,711.00 121.50,694.00 126.50,694.00" fill="#1e1e1e"/>
<polygon points="124.00,752.00 121.50,769.00 126.50,769.00" fill="#1e1e1e"/>
<text x="0" y="0" font-size="21.31" text-anchor="middle" fill="#1a1a1a" stroke="#1a1a1a" stroke-width="0.45" transform="translate(122.00 731.35) rotate(-90) scale(0.8106 1)">50</text>
<line x1="169" y1="777.6" x2="300.6" y2="777.6" stroke="#1e1e1e" stroke-width="0.8"/>
<polygon points="169.00,777.60 186.00,775.10 186.00,780.10" fill="#1e1e1e"/>
<polygon points="300.60,777.60 283.60,775.10 283.60,780.10" fill="#1e1e1e"/>
<text x="0" y="0" font-size="18.67" text-anchor="middle" fill="#1a1a1a" stroke="#1a1a1a" stroke-width="0.45" transform="translate(234.10 774.20) rotate(0) scale(0.9289 1)">162</text>
<text x="0" y="0" font-size="24.50" text-anchor="middle" fill="#1a1a1a" stroke="#1a1a1a" stroke-width="0.15" transform="translate(523.86 622.50) rotate(0) scale(1.0807 1)">Овальный</text>
<text x="0" y="0" font-size="24.08" text-anchor="middle" fill="#1a1a1a" stroke="#1a1a1a" stroke-width="0.15" transform="translate(642.28 622.42) rotate(0) scale(1.0668 1)">фланец</text>
<line x1="512.8" y1="640.8" x2="636.3" y2="640.8" stroke="#1e1e1e" stroke-width="0.8" stroke-dasharray="14 3 2 3"/>
<line x1="518.8" y1="640.8" x2="518.8" y2="682.5" stroke="#1e1e1e" stroke-width="0.9"/>
<line x1="523.3" y1="640.8" x2="523.3" y2="682.5" stroke="#1e1e1e" stroke-width="0.9"/>
<line x1="532.3" y1="640.8" x2="532.3" y2="682.5" stroke="#1e1e1e" stroke-width="0.9"/>
<line x1="617" y1="640.8" x2="617" y2="682.5" stroke="#1e1e1e" stroke-width="0.9"/>
<line x1="626" y1="640.8" x2="626" y2="682.5" stroke="#1e1e1e" stroke-width="0.9"/>
<line x1="630.6" y1="640.8" x2="630.6" y2="682.5" stroke="#1e1e1e" stroke-width="0.9"/>
<line x1="574.7" y1="636" x2="574.7" y2="745" stroke="#1e1e1e" stroke-width="0.7" stroke-dasharray="14 3 2 3"/>
<path d="M510.5,727 L510.5,686 Q510.5,682.5 514,682.5 L634,682.5 Q637.5,682.5 637.5,686 L637.5,727" stroke="#1e1e1e" stroke-width="1" fill="none"/>
<line x1="517.3" y1="682.5" x2="517.3" y2="727" stroke="#1e1e1e" stroke-width="0.9"/>
<line x1="632" y1="682.5" x2="632" y2="727" stroke="#1e1e1e" stroke-width="0.9"/>
<rect x="509" y="690" width="3" height="8" rx="0" stroke="#1e1e1e" stroke-width="0.8" fill="none"/>
<rect x="637" y="690" width="3" height="8" rx="0" stroke="#1e1e1e" stroke-width="0.8" fill="none"/>
<rect x="637.5" y="701" width="9.5" height="23" rx="0" stroke="#1e1e1e" stroke-width="1" fill="none"/>
<rect x="647" y="706" width="6" height="13" rx="0" stroke="#1e1e1e" stroke-width="0.9" fill="none"/>
<path d="M477.5,747.6 L477.5,740 Q477.5,736.3 481,735.8 L510.5,728" stroke="#1e1e1e" stroke-width="1" fill="none"/>
<path d="M477.5,739.4 L518,736.2 L560,730.8" stroke="#1e1e1e" stroke-width="0.9" fill="none"/>
<path d="M477.5,747.6 L480.5,750 L480.5,751.6 L518.4,751.6" stroke="#1e1e1e" stroke-width="1" fill="none"/>
<path d="M490.8,735.4 L512.7,731 L513.5,732.3 L491.5,736.8 Z" stroke="#1e1e1e" stroke-width="1.1" fill="none"/>
<path d="M671.9,747.6 L671.9,740 Q671.9,736.3 668.4,735.8 L638.9,728" stroke="#1e1e1e" stroke-width="1" fill="none"/>
<path d="M671.9,739.4 L631.4,736.2 L589.4,730.8" stroke="#1e1e1e" stroke-width="0.9" fill="none"/>
<path d="M671.9,747.6 L668.9,750 L668.9,751.6 L631.0,751.6" stroke="#1e1e1e" stroke-width="1" fill="none"/>
<path d="M658.6,735.4 L636.7,731 L635.9,732.3 L657.9,736.8 Z" stroke="#1e1e1e" stroke-width="1.1" fill="none"/>
<path d="M518.4,751.6 Q574.7,727 631,751.6" stroke="#1e1e1e" stroke-width="1" fill="none"/>
<path d="M529.5,699.5 L533.1,696.7 L565.6,686.1 A26.5,26.5 0 0 1 583.8,686.1 L616.3,696.7 L619.9,699.5 L619.9,722.5 L616.3,725.5 L583.8,736.2 A26.5,26.5 0 0 1 565.6,736.2 L533.1,725.5 L529.5,722.5 Z" fill="#fff" stroke="#1e1e1e" stroke-width="1.2"/>
<path d="M529.5,699.5 L534.8,702 L534.8,720 L529.5,722.5 M534.8,702 L558.3,691 M534.8,720 L558.3,731" stroke="#1e1e1e" stroke-width="0.9" fill="none"/>
<path d="M619.9000000000001,699.5 L614.6000000000001,702 L614.6000000000001,720 L619.9000000000001,722.5 M614.6000000000001,702 L591.1000000000001,691 M614.6000000000001,720 L591.1000000000001,731" stroke="#1e1e1e" stroke-width="0.9" fill="none"/>
<path d="M557.1,701.5 A20,20 0 0 1 592.3,701.5 L602,701.5 A10.3,10.3 0 1 1 602,720.9 L592.3,720.9 A20,20 0 0 1 557.1,720.9 L547.4,720.9 A10.3,10.3 0 1 1 547.4,701.5 Z" stroke="#1e1e1e" stroke-width="1" fill="none"/>
<circle cx="574.7" cy="711" r="14.2" stroke="#1e1e1e" stroke-width="1.1" fill="none"/>
<circle cx="574.7" cy="711" r="12.8" stroke="#1e1e1e" stroke-width="0.9" fill="none"/>
<polygon points="550.9,711 547.5,716.8888 540.7,716.8888 537.3000000000001,711 540.7,705.1112 547.5,705.1112" fill="none" stroke="#1e1e1e" stroke-width="1.1"/>
<circle cx="544.1" cy="711" r="4.5" stroke="#1e1e1e" stroke-width="0.9" fill="none"/>
<circle cx="544.1" cy="711" r="2.5" stroke="#1e1e1e" stroke-width="0.8" fill="none"/>
<polygon points="612.0999999999999,711 608.6999999999999,716.8888 601.9,716.8888 598.5,711 601.9,705.1112 608.6999999999999,705.1112" fill="none" stroke="#1e1e1e" stroke-width="1.1"/>
<circle cx="605.3" cy="711" r="4.5" stroke="#1e1e1e" stroke-width="0.9" fill="none"/>
<circle cx="605.3" cy="711" r="2.5" stroke="#1e1e1e" stroke-width="0.8" fill="none"/>
<line x1="526" y1="711" x2="624" y2="711" stroke="#1e1e1e" stroke-width="0.7" stroke-dasharray="30 3 2 3"/>
<line x1="543.5" y1="700" x2="543.5" y2="786" stroke="#1e1e1e" stroke-width="0.8"/>
<line x1="605.5" y1="700" x2="605.5" y2="786" stroke="#1e1e1e" stroke-width="0.8"/>
<line x1="543.5" y1="777.3" x2="605.5" y2="777.3" stroke="#1e1e1e" stroke-width="0.8"/>
<polygon points="543.50,777.30 560.50,774.80 560.50,779.80" fill="#1e1e1e"/>
<polygon points="605.50,777.30 588.50,774.80 588.50,779.80" fill="#1e1e1e"/>
<text x="0" y="0" font-size="20.66" text-anchor="middle" fill="#1a1a1a" stroke="#1a1a1a" stroke-width="0.45" transform="translate(574.43 774.12) rotate(0) scale(0.7767 1)">75</text>
<line x1="582.6" y1="699.6" x2="645" y2="659" stroke="#1e1e1e" stroke-width="0.9"/>
<line x1="645" y1="659" x2="675" y2="659" stroke="#1e1e1e" stroke-width="1"/>
<polygon points="582.6,699.6 593.6,689.3 596.8,694.2" fill="#111"/>
<line x1="606" y1="709.9" x2="647" y2="684" stroke="#1e1e1e" stroke-width="0.9"/>
<line x1="647" y1="684" x2="722" y2="684" stroke="#1e1e1e" stroke-width="1"/>
<polygon points="606,709.9 617,699.8 620.2,704.7" fill="#111"/>
<text x="0" y="0" font-size="17.00" text-anchor="middle" fill="#1a1a1a" stroke="#1a1a1a" stroke-width="0.45" transform="translate(662.00 655.00) rotate(0) scale(0.9253 1)">G1</text>
<text x="0" y="0" font-size="18.00" text-anchor="middle" fill="#1a1a1a" stroke="#1a1a1a" stroke-width="0.45" transform="translate(683.10 681.00) rotate(0) scale(0.9875 1)">M10×40</text>
</svg></body></html>
